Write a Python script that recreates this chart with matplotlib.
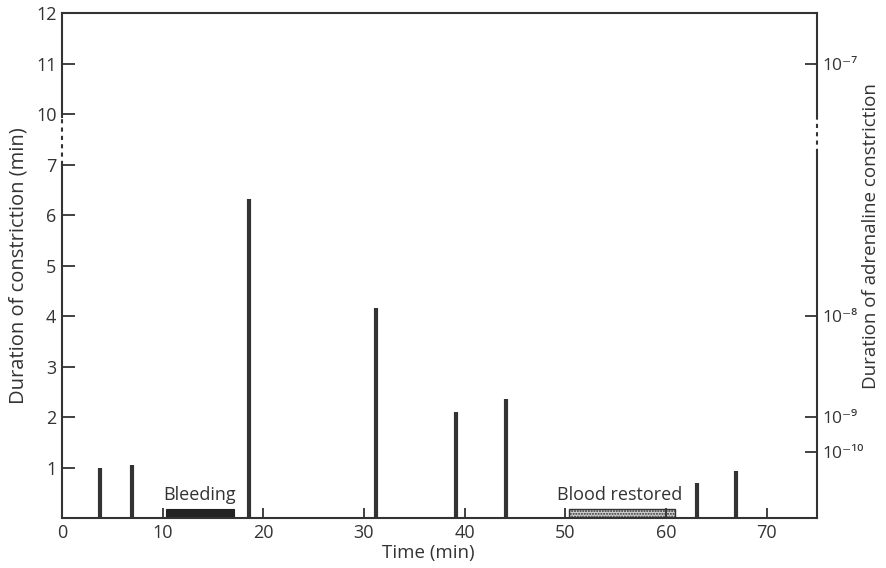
import matplotlib.pyplot as plt
import matplotlib.transforms as mtransforms

plt.rcParams['font.family'] = ['Open Sans', 'DejaVu Sans']

# constriction events
times = [3.8, 7.0, 18.6, 31.2, 39.1, 44.1, 63.1, 67.0]
durations = [1.0, 1.05, 6.32, 4.16, 2.1, 2.36, 0.70, 0.94]

# periods
bleed_start, bleed_end = 10.3, 17.1
restore_start, restore_end = 50.4, 60.9

left_ticks = [1, 2, 3, 4, 5, 6, 7, 10, 11, 12]
right_ticks = [9.0, 4.0, 2.0, 1.3]
right_labels = ['10⁻⁷', '10⁻⁸', '10⁻⁹', '10⁻¹⁰']
x_ticks = [0, 10, 20, 30, 40, 50, 60, 70]


def brk(v):
    # axis is broken between 7 and 10
    return v if v <= 7 else v - 2


ink = '#333333'
fig = plt.figure(figsize=(8.86, 5.68), dpi=100)
ax = fig.add_axes([0.07, 0.088, 0.852, 0.889])

ax.vlines(times, 0, [brk(d) for d in durations], color=ink, lw=3)

ax.bar((bleed_start + bleed_end) / 2, 0.18, width=bleed_end - bleed_start,
       color='#222222', edgecolor='#222222', lw=0.8)
ax.bar((restore_start + restore_end) / 2, 0.17, width=restore_end - restore_start,
       color='#d0d0d0', edgecolor=ink, hatch='......', lw=1.0)
ax.text((bleed_start + bleed_end) / 2, 0.28, 'Bleeding', ha='center', va='bottom',
        fontsize=13, color=ink)
ax.text((restore_start + restore_end) / 2 - 0.2, 0.28, 'Blood restored', ha='center',
        va='bottom', fontsize=13, color=ink)

ax.set_xlim(0, 75)
ax.set_ylim(0, 10)
ax.set_xticks(x_ticks)
ax.set_xticklabels([str(t) for t in x_ticks])
ax.set_yticks([brk(t) for t in left_ticks])
ax.set_yticklabels([str(t) for t in left_ticks])
ax.tick_params(axis='both', direction='in', length=9, width=1.3, colors=ink,
               labelsize=13, pad=4)
ax.tick_params(axis='x', length=7)
ax.set_xlabel('Time (min)', fontsize=13.5, color=ink)
ax.xaxis.set_label_coords(0.485, -0.052)
ax.set_ylabel('Duration of constriction (min)', fontsize=14.5, color=ink)
ax.yaxis.set_label_coords(-0.044, 0.5)

for s in ['top', 'bottom']:
    ax.spines[s].set_linewidth(1.5)
    ax.spines[s].set_color(ink)
for s in ['left', 'right']:
    ax.spines[s].set_visible(False)

trans = mtransforms.blended_transform_factory(ax.transAxes, ax.transData)
for xa, gap in [(0, (7.0, 7.95)), (1, (7.23, 7.98))]:
    ax.plot([xa, xa], [0, gap[0]], color=ink, lw=1.5, transform=trans, clip_on=False)
    ax.plot([xa, xa], [gap[0], gap[1]], color=ink, lw=1.5, ls=(0, (2, 2)),
            transform=trans, clip_on=False)
    ax.plot([xa, xa], [gap[1], 10], color=ink, lw=1.5, transform=trans, clip_on=False)

ax2 = ax.twinx()
ax2.set_ylim(0, 10)
ax2.set_yticks(right_ticks)
ax2.set_yticklabels(right_labels)
ax2.tick_params(axis='y', direction='in', length=9, width=1.3, colors=ink,
                labelsize=12.5, pad=4)
for s in ax2.spines.values():
    s.set_visible(False)
ax2.set_ylabel('Duration of adrenaline constriction', fontsize=13.5, color=ink,
               rotation=90)
ax2.yaxis.set_label_coords(1.06, 0.558)

fig.savefig('out.png', dpi=100)
